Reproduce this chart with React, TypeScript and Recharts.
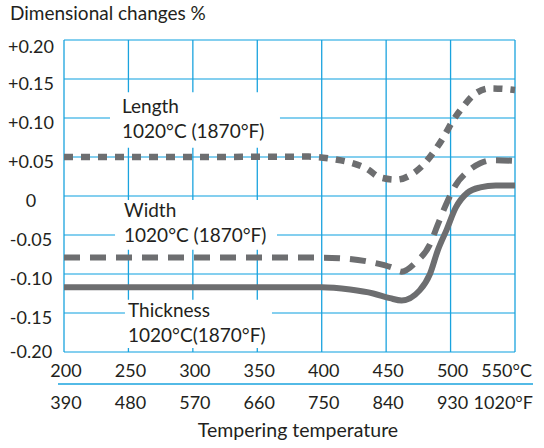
import React from "react";
import {
  CartesianGrid,
  Line,
  LineChart,
  ReferenceArea,
  ReferenceDot,
  XAxis,
  YAxis,
} from "recharts";

const celsiusTicks = [200, 250, 300, 350, 400, 450, 500, 550];
const celsiusLabels = ["200", "250", "300", "350", "400", "450", "500", "550°C"];
const fahrenheitLabels = ["390", "480", "570", "660", "750", "840", "930", "1020°F"];
const yTicks = [-0.2, -0.15, -0.1, -0.05, 0, 0.05, 0.1, 0.15, 0.2];

const lengthTemps = [200, 300, 390, 410, 422, 435, 445, 458, 471, 480, 488, 494, 502, 510, 519, 531, 544, 550];
const lengthValues = [0.05, 0.05, 0.0505, 0.047, 0.043, 0.035, 0.024, 0.021, 0.029, 0.042, 0.059, 0.074, 0.097, 0.115, 0.131, 0.138, 0.137, 0.136];

const widthTemps = [200, 300, 400, 417, 439, 455, 462, 473, 484, 490, 497, 504, 513, 523, 533, 550];
const widthValues = [-0.079, -0.079, -0.079, -0.08, -0.085, -0.092, -0.097, -0.085, -0.062, -0.037, -0.009, 0.014, 0.031, 0.042, 0.046, 0.045];

const thickTemps = [200, 300, 400, 422, 440, 453, 462, 476, 484, 490, 497, 504, 513, 523, 535, 550];
const thickValues = [-0.117, -0.117, -0.117, -0.12, -0.125, -0.131, -0.134, -0.121, -0.1, -0.07, -0.043, -0.015, 0.004, 0.011, 0.0135, 0.0135];

// curve name labels: white box over the grid + two text lines
const labelNames = ["Length", "Width", "Thickness"];
const labelTemps = ["1020°C (1870°F)", "1020°C (1870°F)", "1020°C(1870°F)"];
const labelBoxes = [
  [235.7, 367.6, 0.062, 0.133],
  [239.6, 365.3, -0.069, -0.005],
  [247.3, 361.4, -0.195, -0.133],
];
const labelAnchors = [
  [245, 0.106],
  [246.6, -0.027],
  [249.7, -0.155],
];

const zip = (ts: number[], vs: number[]) => ts.map((t, i) => ({ t, v: vs[i] }));

const lengthData = zip(lengthTemps, lengthValues);
const widthData = zip(widthTemps, widthValues);
const thickData = zip(thickTemps, thickValues);

const TEXT = "#231f20";
const GREY = "#6d6e70";
const FONT = "Lato, 'Open Sans', sans-serif";

const fmtY = (v: number) => {
  if (Math.abs(v) < 1e-9) return "0";
  return (v > 0 ? "+" : "") + v.toFixed(2);
};

const YTick = (props: any) => {
  const { x, y, payload, index } = props;
  let dy = 11;
  if (index === 0) dy = 6;
  if (index === yTicks.length - 1) dy = 13;
  return (
    <text x={x - 33} y={y + dy} textAnchor="middle" fontSize={18} fill={TEXT} fontFamily={FONT}>
      {fmtY(payload.value)}
    </text>
  );
};

const XTick = (props: any) => {
  const { x, y, payload } = props;
  const i = celsiusTicks.indexOf(payload.value);
  const last = i === celsiusTicks.length - 1;
  return (
    <g>
      {i === 0 && <line x1={x - 6} x2={x + 469} y1={y + 32} y2={y + 32} stroke="#1aa3de" strokeWidth={1.3} />}
      <text
        x={last ? x + 17 : x + 2}
        y={y + 25}
        textAnchor={last ? "end" : "middle"}
        fontSize={18}
        fill={TEXT}
        fontFamily={FONT}>
        {celsiusLabels[i]}
      </text>
      <text
        x={last ? x + 18 : x + 2}
        y={y + 57}
        textAnchor={last ? "end" : "middle"}
        fontSize={18}
        fill={TEXT}
        fontFamily={FONT}>
        {fahrenheitLabels[i]}
      </text>
    </g>
  );
};

const NameLabel = (idx: number) => (props: any) => {
  const { cx, cy } = props;
  return (
    <text x={cx} y={cy} fontSize={19} fill={TEXT} fontFamily={FONT}>
      <tspan x={cx}>{labelNames[idx]}</tspan>
      <tspan x={cx} dy={25}>
        {labelTemps[idx]}
      </tspan>
    </text>
  );
};

const App = () => {
  return (
    <div style={{ position: "absolute", left: 0, top: 0, width: 544, height: 448, background: "#fff" }}>
      <div
        style={{
          position: "absolute",
          left: 10,
          top: 4,
          fontFamily: FONT,
          fontSize: 19,
          lineHeight: "18px",
          color: TEXT,
          whiteSpace: "nowrap",
        }}>
        Dimensional changes %
      </div>
      <LineChart
        width={544}
        height={448}
        margin={{ top: 40, right: 29, left: 0, bottom: 32 }}>
        <CartesianGrid horizontal={true} vertical={false} stroke="#5bbfea" strokeWidth={1.3} />
        <CartesianGrid horizontal={false} vertical={true} stroke="#1aa3de" strokeWidth={1.3} />
        <XAxis
          type="number"
          dataKey="t"
          domain={[200, 550]}
          ticks={celsiusTicks}
          height={64}
          axisLine={false}
          tickLine={false}
          tickSize={0}
          tickMargin={0}
          interval={0}
          tick={(p: any) => <XTick {...p} />}
        />
        <YAxis
          type="number"
          domain={[-0.2, 0.2]}
          ticks={yTicks}
          width={64}
          axisLine={false}
          tickLine={false}
          tickSize={0}
          tickMargin={0}
          interval={0}
          tick={(p: any) => <YTick {...p} />}
        />
        {labelBoxes.map((b, i) => (
          <ReferenceArea
            key={"box" + i}
            x1={b[0]}
            x2={b[1]}
            y1={b[2]}
            y2={b[3]}
            fill="#fff"
            fillOpacity={1}
            stroke="none"
          />
        ))}
        {labelAnchors.map((a, i) => (
          <ReferenceDot key={"lbl" + i} x={a[0]} y={a[1]} r={0} shape={NameLabel(i)} />
        ))}
        <Line
          data={thickData}
          dataKey="v"
          type="monotone"
          stroke={GREY}
          strokeWidth={6}
          dot={false}
          activeDot={false}
          isAnimationActive={false}
        />
        <Line
          data={widthData}
          dataKey="v"
          type="monotone"
          stroke={GREY}
          strokeWidth={6}
          strokeDasharray="16 10"
          dot={false}
          activeDot={false}
          isAnimationActive={false}
        />
        <Line
          data={lengthData}
          dataKey="v"
          type="monotone"
          stroke={GREY}
          strokeWidth={6.5}
          strokeDasharray="9 8"
          dot={false}
          activeDot={false}
          isAnimationActive={false}
        />
      </LineChart>
      <div
        style={{
          position: "absolute",
          left: 0,
          width: 596,
          top: 421,
          textAlign: "center",
          fontFamily: FONT,
          fontSize: 19.5,
          lineHeight: "18px",
          color: TEXT,
          whiteSpace: "nowrap",
        }}>
        Tempering temperature
      </div>
    </div>
  );
};

export default App;
